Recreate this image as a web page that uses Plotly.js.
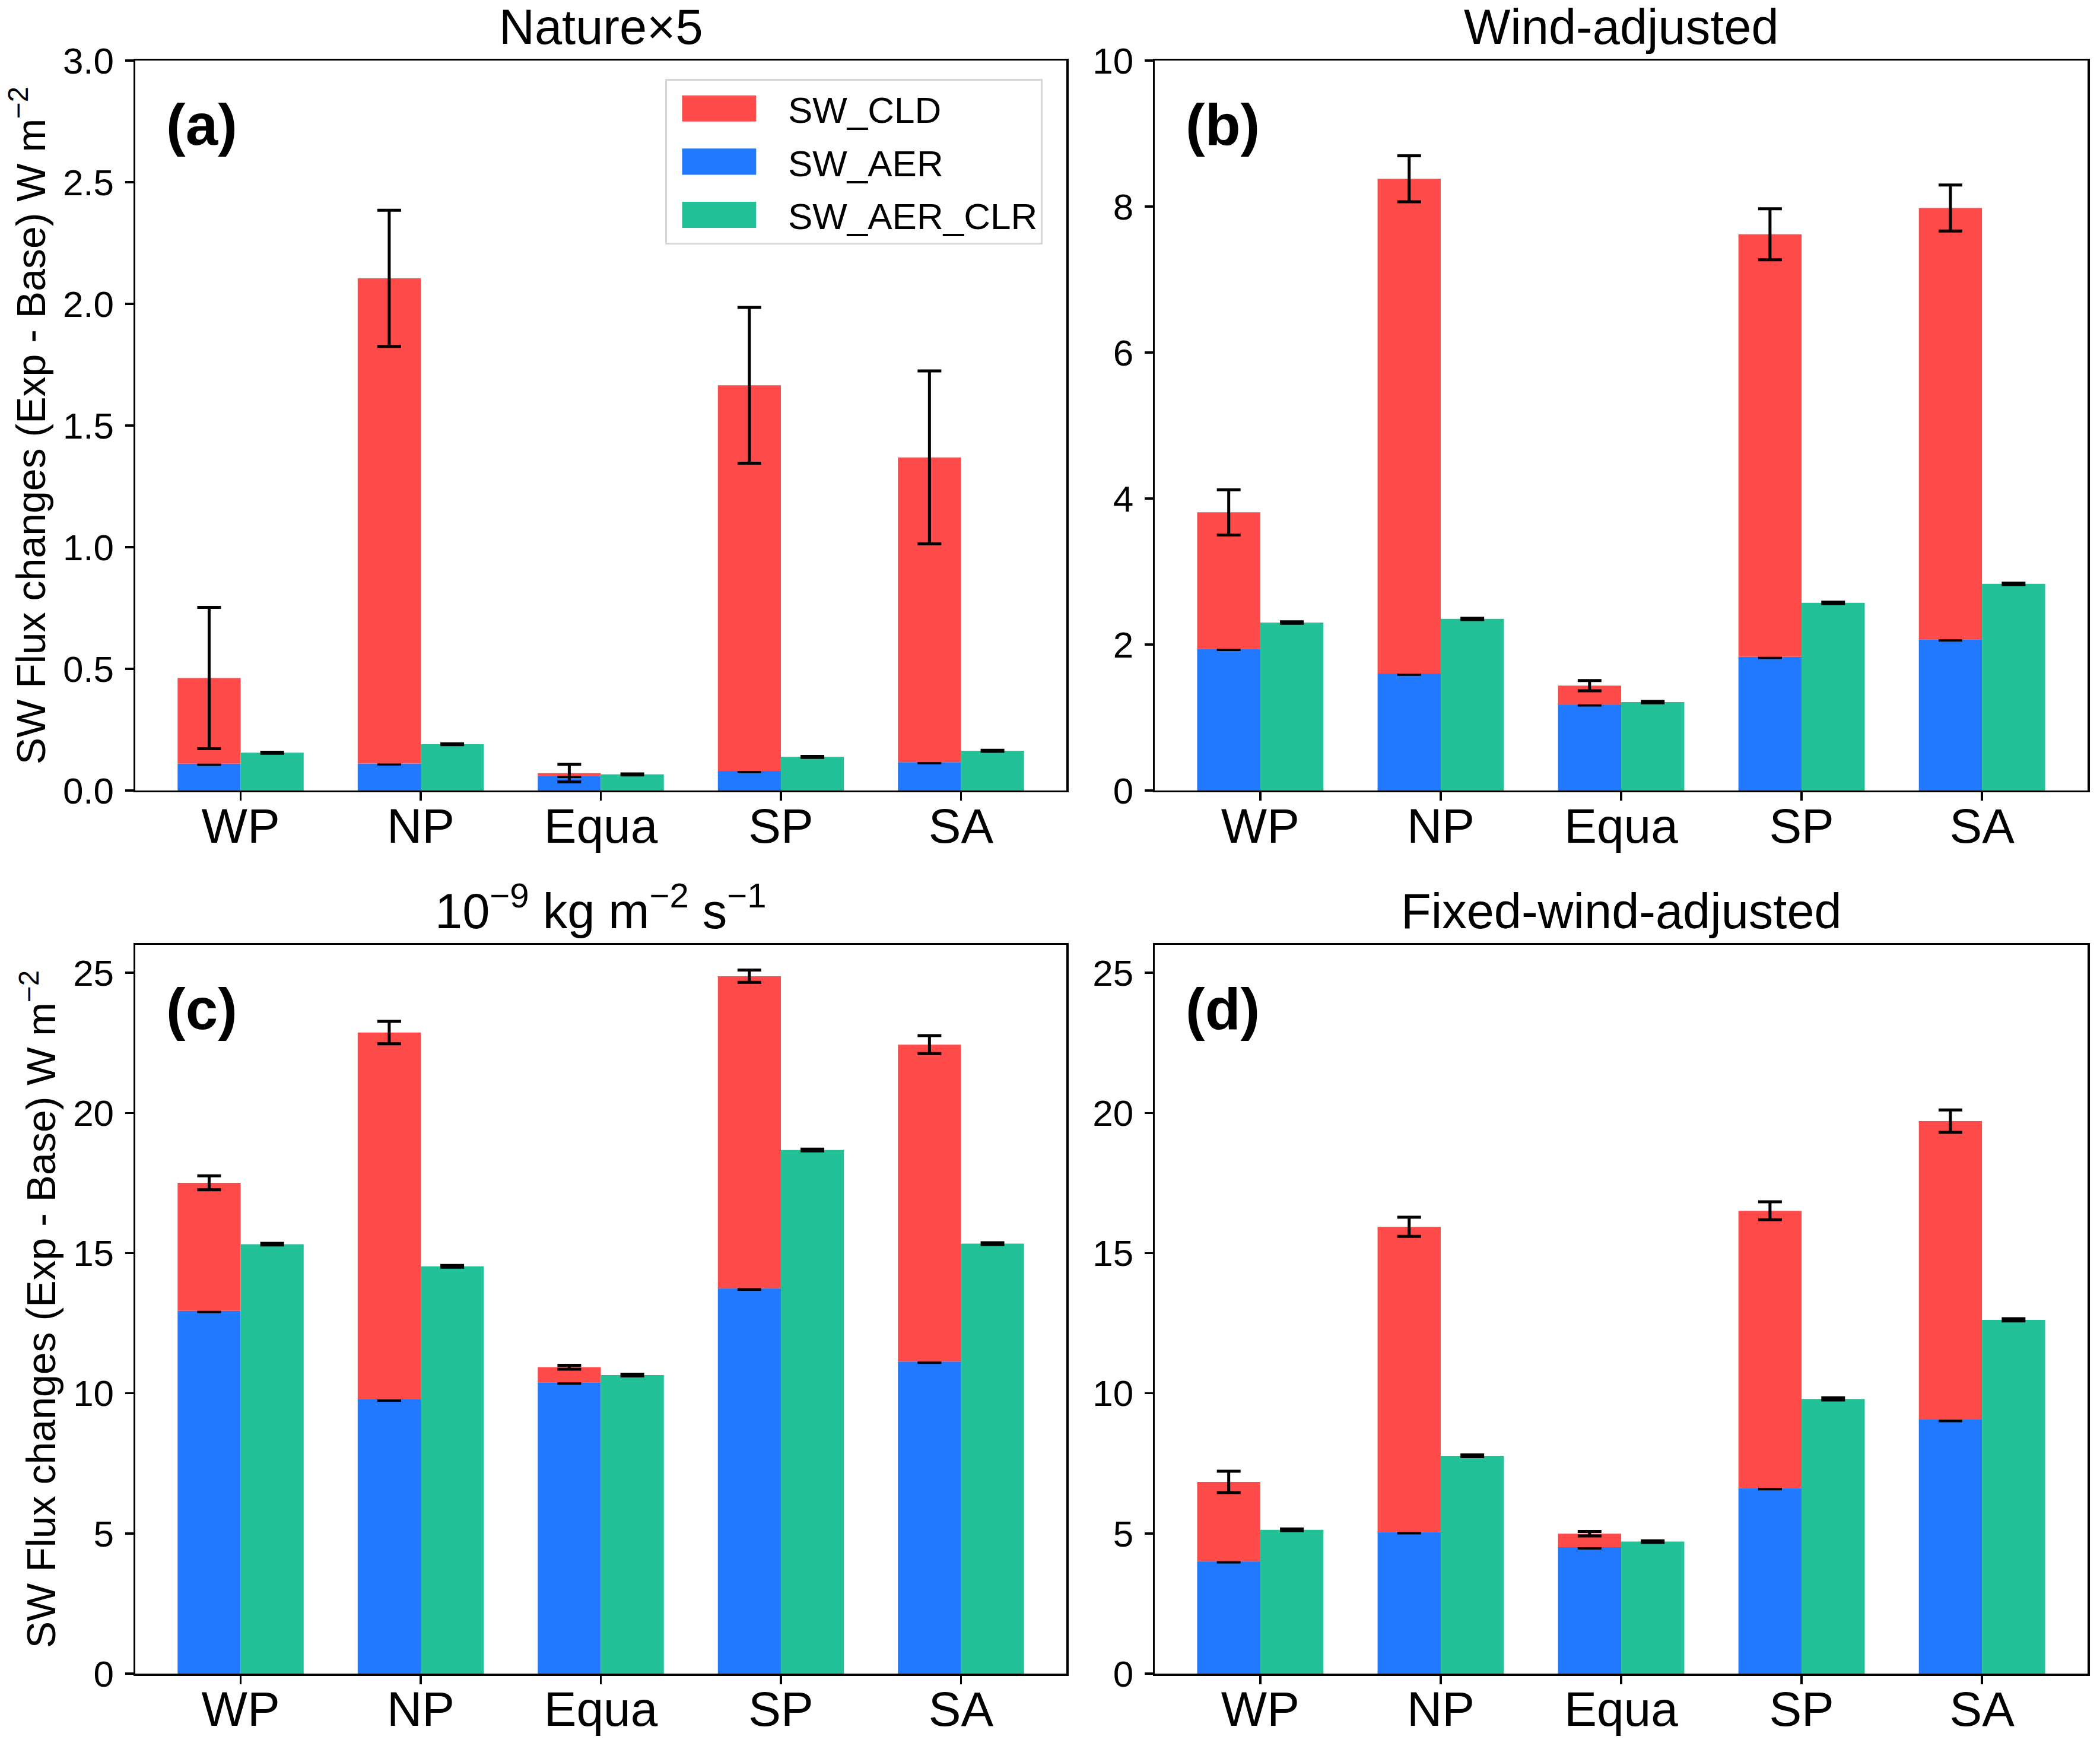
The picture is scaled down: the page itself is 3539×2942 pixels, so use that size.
<!DOCTYPE html>
<html>
<head>
<meta charset="utf-8">
<script src="https://cdn.plot.ly/plotly-3.0.1.min.js"></script>
<style>html,body{margin:0;padding:0;background:#fff}#chart{width:3539px;height:2942px}</style>
</head>
<body>
<div id="chart"></div>
<script>
// ---------------- data ----------------
var categories = ['WP', 'NP', 'Equa', 'SP', 'SA'];
var panelTitles = ['Nature\u00d75', 'Wind-adjusted', '10<sup>\u22129</sup> kg m<sup>\u22122</sup> s<sup>\u22121</sup>', 'Fixed-wind-adjusted'];
var panelLabels = ['(a)', '(b)', '(c)', '(d)'];

// SW_AER (blue, bottom of stack)
var aerA = [0.110, 0.111, 0.059, 0.080, 0.116];
var aerB = [1.94, 1.60, 1.18, 1.83, 2.07];
var aerC = [12.94, 9.78, 10.39, 13.75, 11.13];
var aerD = [4.01, 5.05, 4.51, 6.62, 9.06];
// SW_CLD (red, stacked on top of SW_AER)
var cldA = [0.352, 1.994, 0.012, 1.585, 1.253];
var cldB = [1.87, 6.78, 0.256, 5.79, 5.91];
var cldC = [4.57, 13.09, 0.54, 11.13, 11.31];
var cldD = [2.83, 10.89, 0.48, 9.89, 10.65];
// SW_AER_CLR (green)
var clrA = [0.155, 0.190, 0.066, 0.138, 0.163];
var clrB = [2.30, 2.35, 1.21, 2.57, 2.83];
var clrC = [15.32, 14.53, 10.65, 18.68, 15.34];
var clrD = [5.13, 7.77, 4.71, 9.80, 12.62];
// error bars
var cldErrA = [0.29, 0.28, 0.036, 0.32, 0.355];
var cldErrB = [0.31, 0.315, 0.07, 0.35, 0.315];
var cldErrC = [0.25, 0.40, 0.07, 0.22, 0.32];
var cldErrD = [0.38, 0.34, 0.08, 0.32, 0.40];
var aerErrA = [0.003, 0.003, 0.002, 0.003, 0.003];
var aerErrB = [0.01, 0.01, 0.01, 0.01, 0.01];
var aerErrC = [0.03, 0.03, 0.03, 0.04, 0.03];
var aerErrD = [0.03, 0.03, 0.03, 0.03, 0.04];
var clrErrA = [0.002, 0.002, 0.002, 0.002, 0.002];
var clrErrB = [0.01, 0.01, 0.01, 0.01, 0.01];
var clrErrC = [0.03, 0.03, 0.03, 0.03, 0.03];
var clrErrD = [0.03, 0.03, 0.03, 0.04, 0.04];

var yRanges = [[0, 3], [0, 10], [0, 26], [0, 26]];
var yDticks = [0.5, 2, 5, 5];
var yFormats = ['.1f', 'd', 'd', 'd'];

// ---------------- styling ----------------
var FONT = 'Liberation Sans, Arial, Helvetica, sans-serif';
var C_CLD = '#FF4A4A', C_AER = '#2079FF', C_CLR = '#23C197';

var panels = [
  {aer: aerA, cld: cldA, clr: clrA, ce: cldErrA, ae: aerErrA, re: clrErrA},
  {aer: aerB, cld: cldB, clr: clrB, ce: cldErrB, ae: aerErrB, re: clrErrB},
  {aer: aerC, cld: cldC, clr: clrC, ce: cldErrC, ae: aerErrC, re: clrErrC},
  {aer: aerD, cld: cldD, clr: clrD, ce: cldErrD, ae: aerErrD, re: clrErrD}
];

function errObj(arr) {
  return {type: 'data', array: arr, visible: true, color: '#000', thickness: 5, width: 20};
}

var traces = [];
panels.forEach(function (p, i) {
  var xa = i === 0 ? 'x' : 'x' + (i + 1);
  var ya = i === 0 ? 'y' : 'y' + (i + 1);
  var show = i === 0;
  traces.push({
    type: 'bar', name: 'SW_AER', x: categories, y: p.aer, xaxis: xa, yaxis: ya,
    offsetgroup: 'stack', marker: {color: C_AER, line: {width: 0}},
    error_y: errObj(p.ae), showlegend: show, legendrank: 2, legendgroup: 'g2'
  });
  traces.push({
    type: 'bar', name: 'SW_CLD', x: categories, y: p.cld, base: p.aer, xaxis: xa, yaxis: ya,
    offsetgroup: 'stack', marker: {color: C_CLD, line: {width: 0}},
    error_y: errObj(p.ce), showlegend: show, legendrank: 1, legendgroup: 'g1'
  });
  traces.push({
    type: 'bar', name: 'SW_AER_CLR', x: categories, y: p.clr, xaxis: xa, yaxis: ya,
    offsetgroup: 'clr', marker: {color: C_CLR, line: {width: 0}},
    error_y: errObj(p.re), showlegend: show, legendrank: 3, legendgroup: 'g3'
  });
});

var W = 3539, H = 2942;
var mL = 228, mR = 21, mT = 102, mB = 122;
var xDomL = [0, 0.4769], xDomR = [0.5222, 1];
var yDomT = [0.5475, 1], yDomB = [0, 0.4518];

function xAxis(dom, anchor) {
  return {
    domain: dom, anchor: anchor, type: 'category', range: [-0.585, 4.585],
    showline: true, mirror: true, linecolor: '#000', linewidth: 3.5,
    ticks: 'outside', ticklen: 14, tickwidth: 3.5, tickcolor: '#000',
    showgrid: false, zeroline: false, ticklabelstandoff: -28,
    tickfont: {family: FONT, size: 82, color: '#000'}
  };
}
function yAxis(dom, anchor, i, withTitle) {
  var ax = {
    domain: dom, anchor: anchor, range: yRanges[i], dtick: yDticks[i], tick0: 0,
    tickformat: yFormats[i],
    showline: true, mirror: true, linecolor: '#000', linewidth: 3.5,
    ticks: 'outside', ticklen: 14, tickwidth: 3.5, tickcolor: '#000',
    showgrid: false, zeroline: false, ticklabelstandoff: 6,
    tickfont: {family: FONT, size: 62, color: '#000'}
  };
  if (withTitle) {
    ax.title = {text: 'SW Flux changes (Exp - Base) W m<sup>\u22122</sup>',
      font: {family: FONT, size: 68, color: '#000'}, standoff: 8};
  }
  return ax;
}

var annotations = [];
for (var i = 0; i < 4; i++) {
  var xr = (i === 0 ? 'x' : 'x' + (i + 1)) + ' domain';
  var yr = (i === 0 ? 'y' : 'y' + (i + 1)) + ' domain';
  annotations.push({
    xref: xr, yref: yr, x: 0.5, y: 1, xanchor: 'center', yanchor: 'bottom', yshift: 8,
    text: panelTitles[i], showarrow: false, font: {family: FONT, size: 83, color: '#000'}
  });
  annotations.push({
    xref: xr, yref: yr, x: 0.032, y: 0.912, xanchor: 'left', yanchor: 'middle',
    text: '<b>' + panelLabels[i] + '</b>', showarrow: false, font: {family: FONT, size: 98, color: '#000'}
  });
}

var layout = {
  width: W, height: H,
  margin: {l: mL, r: mR, t: mT, b: mB, pad: 0},
  paper_bgcolor: '#fff', plot_bgcolor: '#fff',
  barmode: 'group', bargap: 0.3, bargroupgap: 0,
  font: {family: FONT, color: '#000'},
  xaxis: xAxis(xDomL, 'y'),
  yaxis: yAxis(yDomT, 'x', 0, true),
  xaxis2: xAxis(xDomR, 'y2'),
  yaxis2: yAxis(yDomT, 'x2', 1, false),
  xaxis3: xAxis(xDomL, 'y3'),
  yaxis3: yAxis(yDomB, 'x3', 2, true),
  xaxis4: xAxis(xDomR, 'y4'),
  yaxis4: yAxis(yDomB, 'x4', 3, false),
  legend: {
    x: 0.2714, y: 0.9886, xanchor: 'left', yanchor: 'top',
    bgcolor: '#fff', bordercolor: '#d6d6d6', borderwidth: 3,
    font: {family: FONT, size: 62, color: '#000'},
    itemwidth: 194, tracegroupgap: 6, traceorder: 'grouped'
  },
  annotations: annotations
};

function bigSwatches(gd) {
  gd.querySelectorAll('.legend .legendpoints path').forEach(function (p) {
    p.setAttribute('transform', 'translate(88,0) scale(10.4,3.67)');
  });
}

Plotly.newPlot('chart', traces, layout, {staticPlot: true, displayModeBar: false}).then(function (gd) {
  bigSwatches(gd);
  gd.on('plotly_afterplot', function () { bigSwatches(gd); });
});
</script>
</body>
</html>
